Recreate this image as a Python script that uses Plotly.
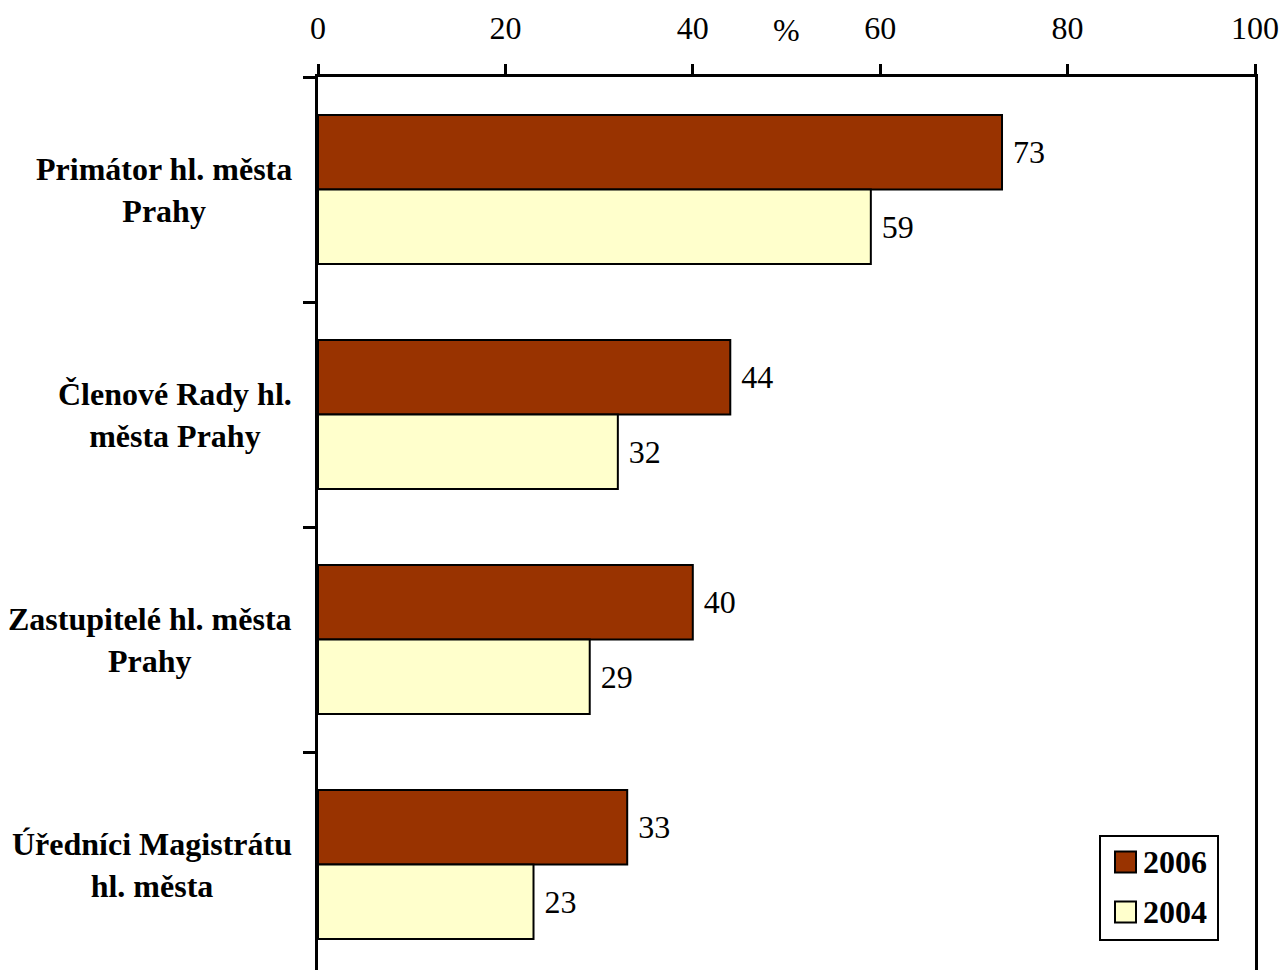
import plotly.graph_objects as go

categories = ["Primátor hl. města<br>Prahy", "Členové Rady hl.<br>města Prahy",
              "Zastupitelé hl. města<br>Prahy", "Úředníci Magistrátu<br>hl. města"]
series_names = ["2006", "2004"]
values_2006 = [73, 44, 40, 33]
values_2004 = [59, 32, 29, 23]
colors = ["#993300", "#FFFFCC"]
x_ticks = [0, 20, 40, 60, 80, 100]

W, H = 1284, 970
ML, MR, MT, MB = 318, 29, 77, 0
PW, PH = W - ML - MR, H - MT - MB
FONT = "Liberation Serif"
FS = 32


def px_x(px):
    return (px - ML) / PW


def px_y(py):
    return 1 - (py - MT) / PH


fig = go.Figure()
for name, vals, col in zip(series_names, [values_2006, values_2004], colors):
    fig.add_trace(go.Bar(
        y=list(range(len(categories))), x=vals, orientation="h", name=name,
        marker=dict(color=col, line=dict(color="black", width=2)),
        text=vals, texttemplate="\u00a0%{x}", textposition="outside",
        textfont=dict(family=FONT, size=FS, color="black"),
        cliponaxis=False, showlegend=False,
    ))

annotations = []
for i, cat in enumerate(categories):
    annotations.append(dict(
        x=0, xref="paper", y=i, yref="y", text=cat, showarrow=False,
        xanchor="right", yanchor="middle", xshift=-24, align="center",
        font=dict(family=FONT, size=FS, color="black", weight="bold"),
    ))
annotations.append(dict(
    x=50, xref="x", y=px_y(30), yref="paper", text="%", showarrow=False,
    xanchor="center", yanchor="middle",
    font=dict(family=FONT, size=FS, color="black"),
))

# manual legend
shapes = [dict(type="rect", xref="paper", yref="paper",
               x0=px_x(1100), x1=px_x(1218), y0=px_y(940), y1=px_y(836),
               line=dict(color="black", width=2), fillcolor="white", layer="above")]
legend_rows = [862, 912]
for name, col, cy in zip(series_names, colors, legend_rows):
    shapes.append(dict(type="rect", xref="paper", yref="paper",
                       x0=px_x(1115), x1=px_x(1136), y0=px_y(cy + 10.5), y1=px_y(cy - 10.5),
                       line=dict(color="black", width=2), fillcolor=col, layer="above"))
    annotations.append(dict(
        x=px_x(1141), xref="paper", y=px_y(cy), yref="paper", text=name,
        showarrow=False, xanchor="left", yanchor="middle",
        font=dict(family=FONT, size=FS, color="black", weight="bold"),
    ))

boundaries = [i - 0.5 for i in range(len(categories) + 1)]

fig.update_layout(
    width=W, height=H,
    margin=dict(l=ML, r=MR, t=MT, b=MB, pad=0),
    paper_bgcolor="white", plot_bgcolor="white",
    barmode="group", bargap=0.338, bargroupgap=0,
    showlegend=False,
    annotations=annotations, shapes=shapes,
    xaxis=dict(
        side="top", range=[0, 100], tickvals=x_ticks, ticktext=[str(t) for t in x_ticks],
        ticks="outside", ticklen=10, tickwidth=2.5, tickcolor="black",
        showline=True, linewidth=2.5, linecolor="black", showgrid=False, zeroline=False,
        tickfont=dict(family=FONT, size=FS, color="black"), ticklabelstandoff=12,
    ),
    yaxis=dict(
        range=[-0.5 + PH / 225, -0.5], tickmode="array",
        tickvals=boundaries, showticklabels=False,
        ticks="outside", ticklen=12, tickwidth=2.5, tickcolor="black",
        showline=True, linewidth=2.5, linecolor="black", mirror=True,
        showgrid=False, zeroline=False,
    ),
)
fig.write_html("out.html", config={"displayModeBar": False},
               post_script="document.body.style.margin='0';document.body.style.overflow='hidden';")
